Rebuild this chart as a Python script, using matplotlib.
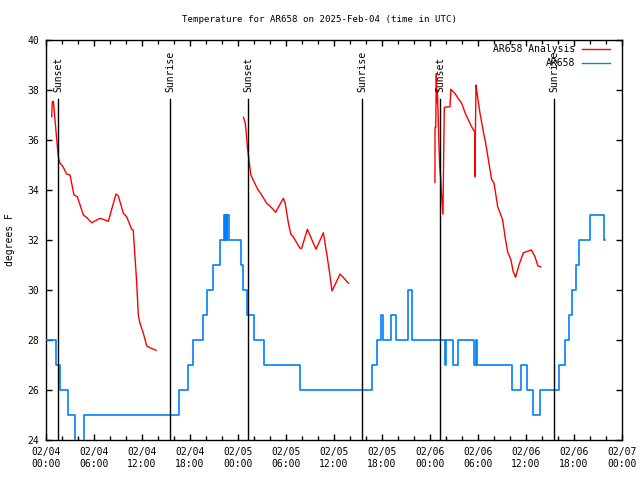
import numpy as np
import matplotlib
matplotlib.use("Agg")
import matplotlib.pyplot as plt

# hours since 2025-02-04 00:00 UTC
nan = np.nan

# AR658 observations (step changes: time, value)
obs_t = [0.0, 1.2, 1.75, 2.75, 3.65, 4.7, 16.6, 17.7, 18.4, 19.6, 20.1,
         20.85, 21.7, 22.25, 22.38, 22.45, 22.58, 22.65, 22.82, 24.35, 24.6,
         25.1, 25.95, 27.2, 31.75, 40.8, 41.4, 41.9, 42.1, 43.1, 43.7, 45.3,
         45.7, 49.85, 50.05, 50.85, 51.55, 53.55, 53.7, 53.85, 58.3, 59.4,
         60.1, 60.85, 61.8, 64.1, 64.85, 65.4, 65.8, 66.2, 66.65, 68.0,
         69.7, 69.9]
obs_v = [28, 27, 26, 25, 23, 25, 26, 27, 28, 29, 30,
         31, 32, 33, 32, 33, 32, 33, 32, 31, 30,
         29, 28, 27, 26, 27, 28, 29, 28, 29, 28, 30,
         28, 27, 28, 27, 28, 27, 28, 27, 26, 27,
         26, 25, 26, 27, 28, 29, 30, 31, 32, 33,
         32, 32]

# AR658 Analysis (gaps between nights)
ana_t = [0.71, 0.79, 0.92, 1.0, 1.2, 1.42, 1.54, 1.75, 2.08, 2.58, 3.0,
         3.5, 3.92, 4.67, 5.08, 5.71, 6.75, 7.79, 8.75, 9.04, 9.67, 10.08,
         10.71, 10.9, 11.33, 11.54, 11.75, 12.17, 12.58, 13.0, 13.75,
         nan,
         24.67, 24.88, 25.0, 25.17, 25.42, 25.6, 25.9, 26.46, 26.96, 27.58,
         28.08, 28.7, 29.67, 29.9, 30.3, 30.6, 30.9, 31.75, 31.96, 32.67,
         33.75, 34.67, 35.08, 35.4, 35.75, 36.25, 36.75, 37.25, 37.79,
         nan,
         48.62, 48.63, 48.72, 48.79, 48.85, 48.92, 49.04, 49.1, 49.2, 49.33,
         49.46, 49.62, 49.7, 49.79, 50.5, 50.6, 51.1, 51.5, 51.96, 52.4,
         52.8, 53.2, 53.5, 53.58, 53.6, 53.75, 53.85, 54.0, 54.25, 54.67,
         54.96, 55.3, 55.7, 56.0, 56.2, 56.46, 56.75, 57.08, 57.38, 57.7,
         58.12, 58.4, 58.7, 59.12, 59.67, 60.0, 60.7, 61.12, 61.5, 61.83]
ana_v = [36.93, 37.53, 37.55, 37.27, 36.53, 35.73, 35.33, 35.07, 34.96,
         34.64, 34.6, 33.8, 33.73, 33.0, 32.9, 32.69, 32.87, 32.75, 33.84,
         33.76, 33.07, 32.93, 32.43, 32.4, 30.33, 29.0, 28.67, 28.27, 27.77,
         27.69, 27.59,
         nan,
         36.91, 36.73, 36.4, 35.73, 35.07, 34.6, 34.4, 34.03, 33.8, 33.47,
         33.33, 33.11, 33.67, 33.47, 32.67, 32.24, 32.13, 31.67, 31.67, 32.43,
         31.63, 32.29, 31.47, 30.8, 29.96, 30.29, 30.64, 30.47, 30.27,
         nan,
         34.3, 36.5, 36.5, 38.65, 37.5, 38.0, 36.7, 36.0, 35.0, 34.5,
         33.73, 33.03, 35.2, 37.31, 37.33, 38.03, 37.87, 37.67, 37.47, 37.07,
         36.8, 36.53, 36.37, 36.33, 34.53, 38.2, 37.96, 37.6, 37.07, 36.33,
         35.87, 35.2, 34.43, 34.27, 33.87, 33.33, 33.09, 32.8, 32.13, 31.53,
         31.2, 30.73, 30.51, 31.0, 31.49, 31.53, 31.6, 31.33, 30.96, 30.93]

# sunrise / sunset markers
sun_t = [1.44, 15.5, 25.25, 39.5, 49.25, 63.5]
sun_lbl = ["Sunset", "Sunrise", "Sunset", "Sunrise", "Sunset", "Sunrise"]

xtick_t = list(range(0, 73, 6))
xtick_lbl = ["02/04\n00:00", "02/04\n06:00", "02/04\n12:00", "02/04\n18:00",
             "02/05\n00:00", "02/05\n06:00", "02/05\n12:00", "02/05\n18:00",
             "02/06\n00:00", "02/06\n06:00", "02/06\n12:00", "02/06\n18:00",
             "02/07\n00:00"]

plt.rcParams["font.family"] = "DejaVu Sans Mono"
fs = 7

fig = plt.figure(figsize=(6.4, 4.8), dpi=100)
ax = fig.add_axes([46/640, 1 - 440/480, 576/640, 400/480])

ax.plot(ana_t, ana_v, color="#ff0000", lw=1.0, zorder=3)
ax.plot(obs_t, obs_v, color="#0080ff", lw=1.2, drawstyle="steps-post",
        zorder=3)

for t, lbl in zip(sun_t, sun_lbl):
    ax.axvline(t, ymin=0, ymax=(37.64 - 24) / 16, color="black", lw=1.0,
               zorder=4)
    ax.text(t + 0.1, 37.9, lbl, rotation=90, ha="center", va="bottom",
            fontsize=fs)

ax.set_xlim(0, 72)
ax.set_ylim(24, 40)
ax.set_xticks(xtick_t)
ax.set_xticklabels(xtick_lbl, fontsize=fs, linespacing=1.25)
ax.set_xticks(range(0, 73, 2), minor=True)
ax.set_yticks(range(24, 41, 2))
ax.tick_params(axis="y", labelsize=fs)
ax.tick_params(which="both", direction="in", top=True, right=True, width=1)
ax.tick_params(which="major", length=4.5, pad=5)
ax.tick_params(which="minor", length=3)
for sp in ax.spines.values():
    sp.set_linewidth(1.0)

# legend, drawn by hand so the texts are right-aligned like gnuplot's
lx0, lx1, ltx = (582 - 46) / 576, (610 - 46) / 576, (575 - 46) / 576
for i, (lbl, col) in enumerate([("AR658 Analysis", "#ff0000"),
                                ("AR658", "#0080ff")]):
    yy = 1 - (49 + 14 * i - 40) / 400
    ax.plot([lx0, lx1], [yy, yy], color=col, lw=1.0, transform=ax.transAxes,
            clip_on=False)
    ax.text(ltx, yy, lbl, ha="right", va="center", fontsize=fs,
            transform=ax.transAxes)

fig.text(0.5, 1 - 20/480, "Temperature for AR658 on 2025-Feb-04 (time in UTC)",
         ha="center", va="center", fontsize=6.6)
fig.text(10/640, 0.5, "degrees F", rotation=90, ha="center", va="center",
         fontsize=fs)

fig.savefig("out.png", dpi=100)
